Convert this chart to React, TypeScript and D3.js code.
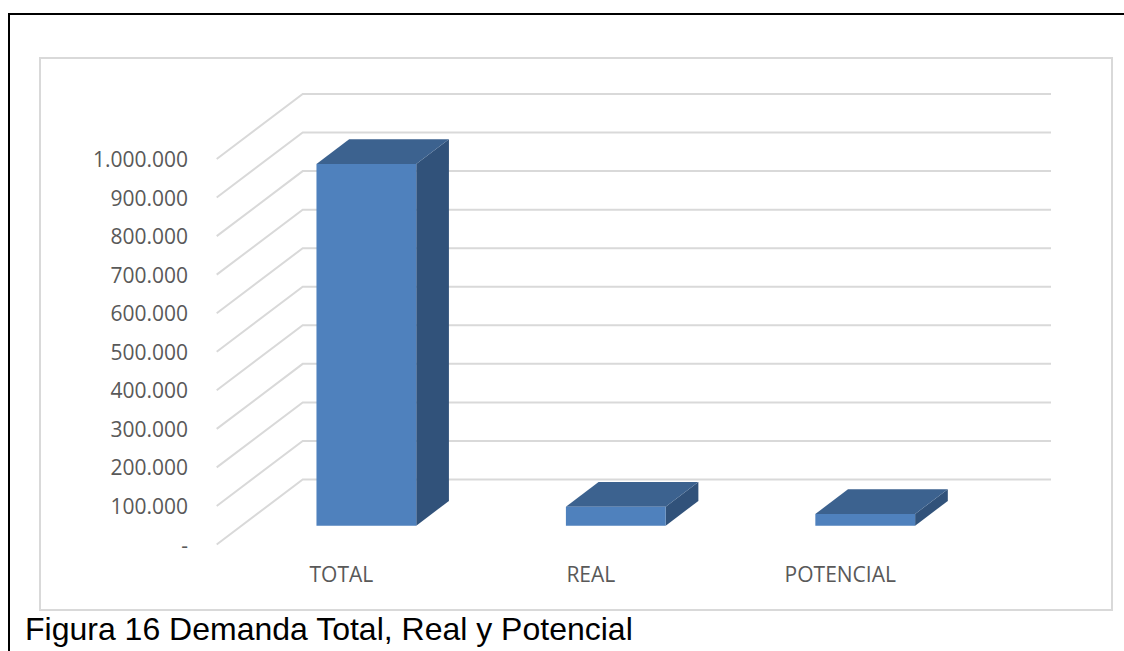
import React from "react";
import * as d3 from "d3";

const categories = ["TOTAL", "REAL", "POTENCIAL"];
const values = [938000, 49300, 30300];
const yTicks = [0, 100000, 200000, 300000, 400000, 500000, 600000, 700000, 800000, 900000, 1000000];
const caption = "Figura 16 Demanda Total, Real y Potencial";

const W = 1124;
const H = 651;
// projection geometry
const frontLeft = 216.7;
const frontRight = 965;
const front0 = 544.5;
const depthDX = 86;
const depthDY = 65;
const backRight = 1051;
const barD0 = 0.29;
const barD1 = 0.67;

const locale = d3.formatLocale({ decimal: ",", thousands: ".", grouping: [3], currency: ["", ""] });
const fmt = (v: number) => (v === 0 ? "-" : locale.format(",.0f")(v));

export default function App() {
  const y = d3.scaleLinear().domain([0, 1000000]).range([0, 385.5]);
  const x = d3.scaleBand<string>().domain(categories).range([frontLeft, frontRight]).paddingInner(0.6).paddingOuter(0.3);
  const proj = (px: number, v: number, d: number): [number, number] => [px + depthDX * d, front0 - y(v) - depthDY * d];
  const pts = (arr: [number, number][]) => arr.map((p) => p.join(",")).join(" ");

  return (
    <div style={{ position: "absolute", left: 0, top: 0, width: W, height: H, overflow: "hidden" }}>
      <svg width={W} height={H} style={{ display: "block", background: "#fff" }}>
        <line x1={9} y1={14} x2={9} y2={H + 10} stroke="#000" strokeWidth={2} />
        <line x1={8} y1={14} x2={W + 30} y2={14} stroke="#000" strokeWidth={2} />
        <rect x={40} y={58} width={1072} height={552} fill="#fff" stroke="#d9d9d9" strokeWidth={2} />
        {yTicks.map((t) => {
          const [fx, fy] = proj(frontLeft, t, 0);
          const [bx, by] = proj(frontLeft, t, 1);
          return (
            <g key={t}>
              <polyline points={pts([[fx, fy], [bx, by], [backRight, by]])} fill="none" stroke="#d9d9d9" strokeWidth={2} />
              <text x={188} y={fy + 8} textAnchor="end" fontFamily="'Open Sans', sans-serif" fontSize={21} fill="#595959">
                {fmt(t)}
              </text>
            </g>
          );
        })}
        {categories.map((c, i) => {
          const xl = x(c)!;
          const xr = xl + x.bandwidth();
          const v = values[i];
          const ftl = proj(xl, v, barD0);
          const ftr = proj(xr, v, barD0);
          const fbl = proj(xl, 0, barD0);
          const fbr = proj(xr, 0, barD0);
          const btl = proj(xl, v, barD1);
          const btr = proj(xr, v, barD1);
          const bbr = proj(xr, 0, barD1);
          return (
            <g key={c}>
              <polygon points={pts([ftr, btr, bbr, fbr])} fill="#31527A" />
              <polygon points={pts([ftl, ftr, btr, btl])} fill="#3C628F" />
              <polygon points={pts([ftl, ftr, fbr, fbl])} fill="#4F81BD" />
            </g>
          );
        })}
        {categories.map((c) => (
          <text key={c} x={x(c)! + x.bandwidth() / 2} y={582} textAnchor="middle" fontFamily="'Open Sans', sans-serif" fontSize={21} fill="#595959">
            {c}
          </text>
        ))}
        <text x={25} y={639.5} fontFamily="'Liberation Sans', Arial, sans-serif" fontSize={32} fill="#000">
          {caption}
        </text>
      </svg>
    </div>
  );
}
